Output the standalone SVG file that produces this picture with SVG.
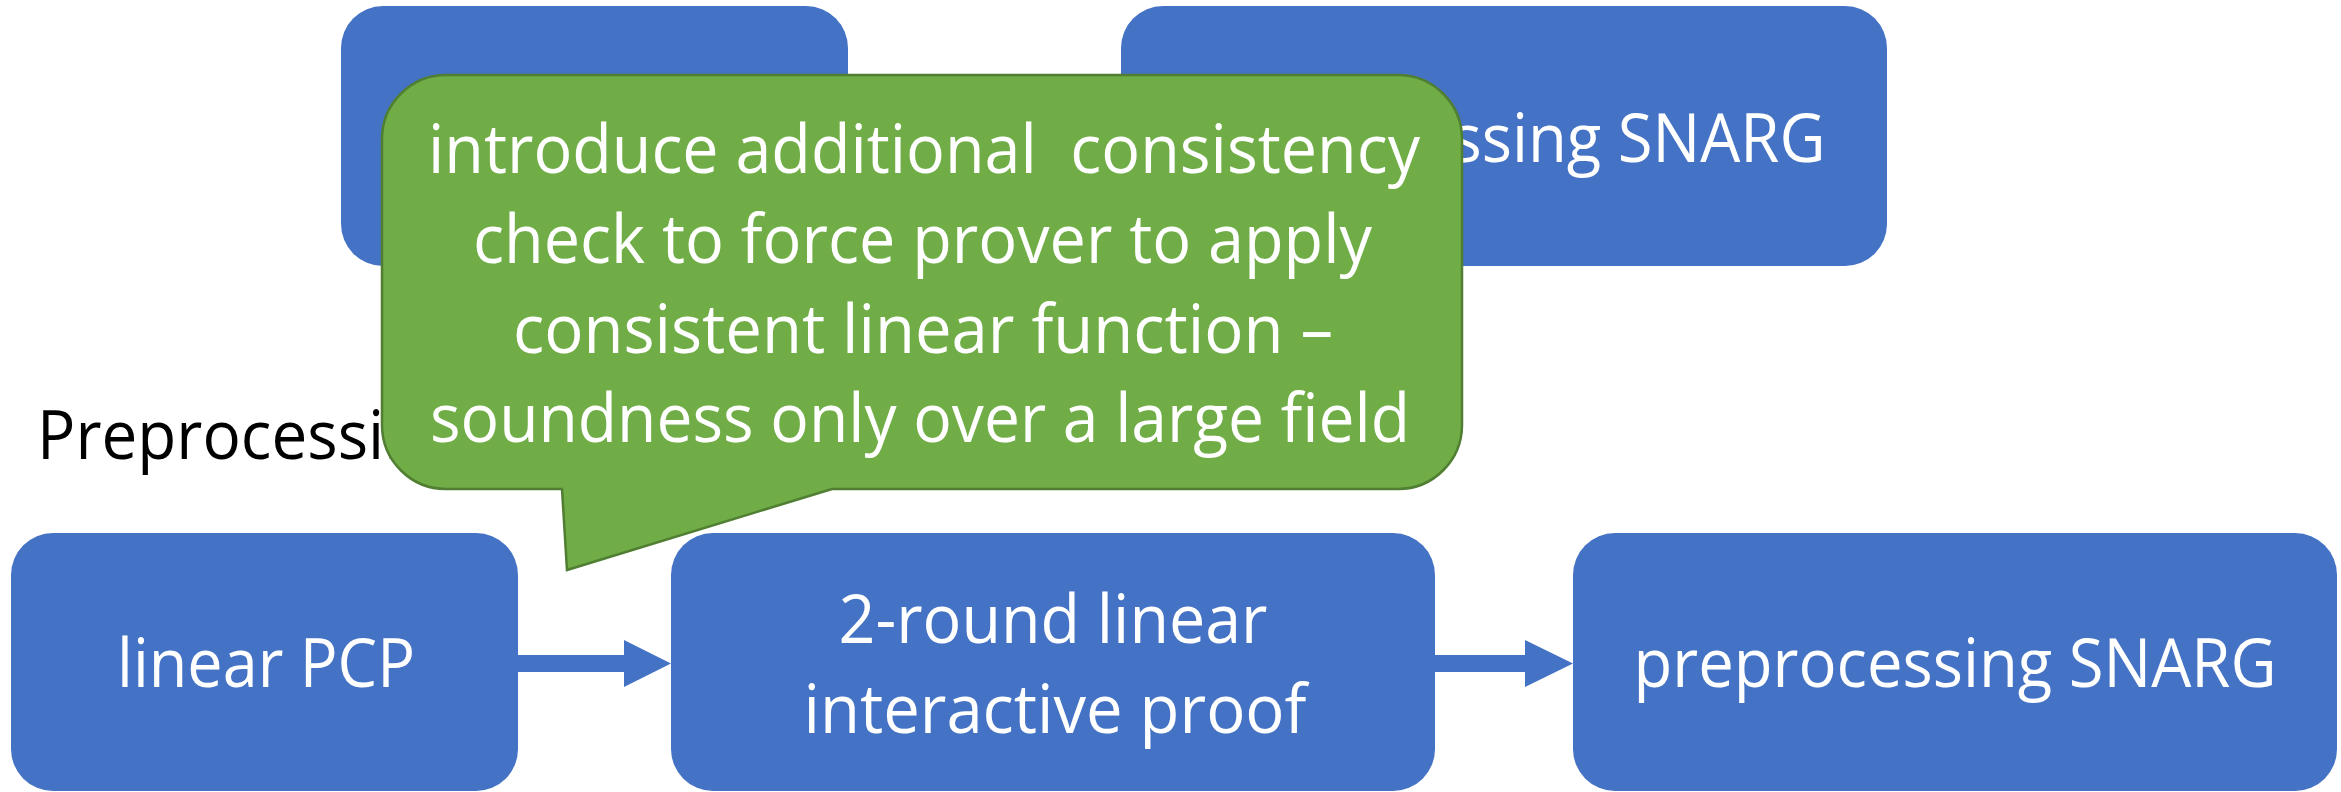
<svg xmlns="http://www.w3.org/2000/svg" width="2341" height="792" viewBox="0 0 2341 792">
<style>
.box{fill:#4472C4;}
.t{font-family:"Open Sans","Noto Sans","Liberation Sans",sans-serif;font-size:68px;fill:#FFFFFF;text-anchor:middle;}
.blk{font-family:"Open Sans","Noto Sans","Liberation Sans",sans-serif;font-size:68px;fill:#000000;}
.arrow{fill:#4472C4;}
.callout{fill:#70AD47;stroke:#507E32;stroke-width:2.5;}
</style>
<g id="node-top-left">
<rect class="box" x="341" y="6" width="507" height="260" rx="42" ry="42"/>
</g>
<g id="node-top-right">
<rect class="box" x="1121" y="6" width="766" height="260" rx="42" ry="42"/>
<text class="t" x="1504" y="162" textLength="643" lengthAdjust="spacingAndGlyphs">preprocessing SNARG</text>
</g>
<g id="node-linear-pcp">
<rect class="box" x="11" y="533" width="507" height="258" rx="42" ry="42"/>
<text class="t" x="266" y="687" textLength="298" lengthAdjust="spacingAndGlyphs">linear PCP</text>
</g>
<g id="node-2round">
<rect class="box" x="671" y="533" width="764" height="258" rx="42" ry="42"/>
<text class="t" x="1053" y="643" textLength="429" lengthAdjust="spacingAndGlyphs">2-round linear</text>
<text class="t" x="1055" y="733" textLength="503" lengthAdjust="spacingAndGlyphs">interactive proof</text>
</g>
<g id="node-preprocessing-snarg">
<rect class="box" x="1573" y="533" width="764" height="258" rx="42" ry="42"/>
<text class="t" x="1955" y="687" textLength="643" lengthAdjust="spacingAndGlyphs">preprocessing SNARG</text>
</g>
<g id="connectors">
<path class="arrow" d="M518,655 H624 V640 L671,663.5 L624,687 V672 H518 Z"/>
<path class="arrow" d="M1435,655 H1525 V640 L1573,663.5 L1525,687 V672 H1435 Z"/>
</g>
<g id="label-preprocessing">
<text class="blk" x="37" y="459" textLength="421" lengthAdjust="spacingAndGlyphs">Preprocessing</text>
</g>
<g id="callout">
<path class="callout" d="M446,75 H1398 A64,64 0 0 1 1462,139 V425 A64,64 0 0 1 1398,489 H832 L567,570 L562,489 H446 A64,64 0 0 1 382,425 V139 A64,64 0 0 1 446,75 Z"/>
<text class="t" x="924" y="173" textLength="992" lengthAdjust="spacingAndGlyphs" xml:space="preserve">introduce additional  consistency</text>
<text class="t" x="922.5" y="263" textLength="899" lengthAdjust="spacingAndGlyphs">check to force prover to apply</text>
<text class="t" x="923" y="353" textLength="820" lengthAdjust="spacingAndGlyphs">consistent linear function –</text>
<text class="t" x="920" y="442" textLength="980" lengthAdjust="spacingAndGlyphs">soundness only over a large field</text>
</g>
</svg>
